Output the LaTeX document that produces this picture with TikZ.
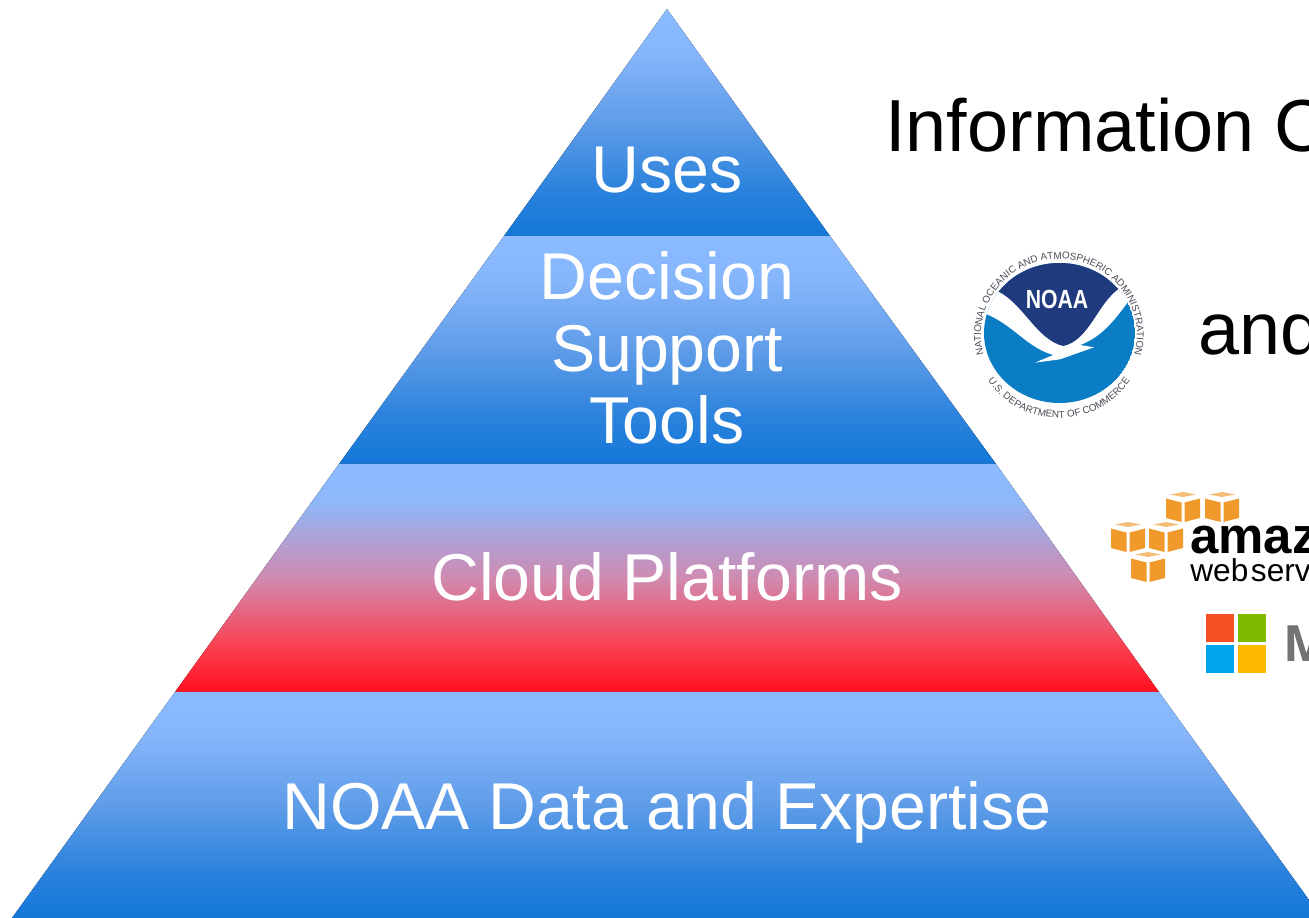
\documentclass[tikz,border=0pt]{standalone}
\usepackage{fontspec}
\setmainfont{Liberation Sans}
\newfontfamily\msfont{Open Sans}
\usetikzlibrary{decorations.text}
\definecolor{pyrtop}{HTML}{8BBBFF}
\definecolor{pyrbot}{HTML}{1477D8}
\definecolor{pyrred}{HTML}{FF1020}
\definecolor{noaanavy}{HTML}{1F3A7D}
\definecolor{noaablue}{HTML}{0A7DC4}
\definecolor{ringgray}{HTML}{4A4A55}
\definecolor{cubeface}{HTML}{F09A2C}
\definecolor{cubetop}{HTML}{F5BE78}
\definecolor{msred}{HTML}{F25022}
\definecolor{msgreen}{HTML}{7FBA00}
\definecolor{msblue}{HTML}{00A4EF}
\definecolor{msyellow}{HTML}{FFB900}
\definecolor{bluemida}{HTML}{2A82DC}
\definecolor{bluemidb}{HTML}{5F9CE8}
\definecolor{bluemidc}{HTML}{85B5FB}
\definecolor{redmida}{HTML}{FA4050}
\definecolor{redmidb}{HTML}{D08AB0}
\definecolor{redmidc}{HTML}{8DB8FB}
\pgfdeclareverticalshading{bluefade}{100bp}{color(0bp)=(pyrbot); color(25bp)=(pyrbot); color(35bp)=(bluemida); color(50bp)=(bluemidb); color(65bp)=(bluemidc); color(75bp)=(pyrtop); color(100bp)=(pyrtop)}
\pgfdeclareverticalshading{redfade}{100bp}{color(0bp)=(pyrred); color(25bp)=(pyrred); color(35bp)=(redmida); color(50bp)=(redmidb); color(67bp)=(redmidc); color(75bp)=(pyrtop); color(100bp)=(pyrtop)}
\tikzset{
	layer/.style={shading=bluefade},
	redlayer/.style={shading=redfade},
	label/.style={text=white, anchor=base, inner sep=0pt, font=\fontsize{37.7}{41}\selectfont},
	sidetext/.style={text=black, anchor=base west, inner sep=0pt, font=\fontsize{42}{48}\selectfont}
}
\begin{document}
\begin{tikzpicture}[x=0.02cm, y=-0.02cm]
	\useasboundingbox (0,0) rectangle (1309,918);
	\clip (0,0) rectangle (1309,918);
	% pyramid
	\fill[layer] (667,9) -- (830,236) -- (504,236) -- cycle;
	\fill[layer] (504,236) -- (830,236) -- (996,464) -- (339,464) -- cycle;
	\fill[redlayer] (339,464) -- (996,464) -- (1159,692) -- (175,692) -- cycle;
	\fill[layer] (175,692) -- (1159,692) -- (1322,918) -- (12,918) -- cycle;
	\node[label] (uses) at (667,193) {Uses};
	\node[label, anchor=center, align=center] (tools) at (667,348) {Decision\\Support\\Tools};
	\node[label] (cloud) at (667,601) {Cloud Platforms};
	\node[label] (data) at (667,829) {NOAA Data and Expertise};
	% right side text
	\node[sidetext] (info) at (885,152) {Information C};
	\node[sidetext] (and) at (1198,355) {and};
	% noaa logo
	\begin{scope}
		\clip (1059.5,333) ellipse (75.5 and 70);
		\fill[noaablue] (1059.5,333) ellipse (75.5 and 70);
		\begin{scope}[shift={(960,230)}, scale=1/3]
			\fill[white] (40,160) -- (40,240) .. controls (150,265) and (190,350) .. (280,375)
				-- (225,398) -- (300,388) -- (402,352) -- (360,345)
				.. controls (430,320) and (470,260) .. (505,215) -- (520,150) -- cycle;
			\fill[noaanavy] (60,80) -- (112,183) .. controls (190,220) and (230,330) .. (310,348)
				.. controls (390,330) and (410,220) .. (482,172) -- (540,80) -- cycle;
		\end{scope}
	\end{scope}
	\node[text=white, inner sep=0pt, font=\bfseries\fontsize{11.5}{14}\selectfont] (noaa) at (1057,299) {\scalebox{1.05}[1.3]{NOAA}};
	\path[decorate, decoration={text along path, text align=center,
		text={|\fontsize{5.6}{6}\selectfont\color{ringgray}|NATIONAL OCEANIC AND ATMOSPHERIC ADMINISTRATION}}]
		(1059,335) ++(162:78 and 76) arc[start angle=162, end angle=378, x radius=78, y radius=76];
	\path[decorate, decoration={text along path, text align=center,
		text={|\fontsize{5.6}{6}\selectfont\color{ringgray}|U.S. DEPARTMENT OF COMMERCE}}]
		(1059,335) ++(150:85 and 83) arc[start angle=150, end angle=30, x radius=85, y radius=83];
	% aws cubes
	\foreach \cx/\cy in {1183/492, 1222/492, 1128/522, 1166/522, 1148/552} {
		\fill[cubeface] (\cx-17,\cy+6.5) -- (\cx-1.5,\cy+10.5) -- (\cx-1.5,\cy+30) -- (\cx-17,\cy+26) -- cycle;
		\fill[cubeface] (\cx+17,\cy+6.5) -- (\cx+1.5,\cy+10.5) -- (\cx+1.5,\cy+30) -- (\cx+17,\cy+26) -- cycle;
		\fill[cubetop] (\cx-13,\cy+2.5) -- (\cx,\cy) -- (\cx+13,\cy+2.5) -- (\cx,\cy+5) -- cycle;
	}
	\node[sidetext, font=\bfseries\fontsize{29}{32}\selectfont] (amaz) at (1190,554) {amaz};
	\node[sidetext, font=\fontsize{18}{22}\selectfont] (webserv) at (1190,582) {web\kern1.5pt serv};
	% microsoft squares
	\fill[msred] (1206,614) rectangle (1234,642);
	\fill[msgreen] (1238,614) rectangle (1266,642);
	\fill[msblue] (1206,645) rectangle (1234,673);
	\fill[msyellow] (1238,645) rectangle (1266,673);
	\node[sidetext, text=black!55, font=\msfont\bfseries\fontsize{28.5}{30}\selectfont] (ms) at (1283,662) {M};
\end{tikzpicture}
\end{document}
